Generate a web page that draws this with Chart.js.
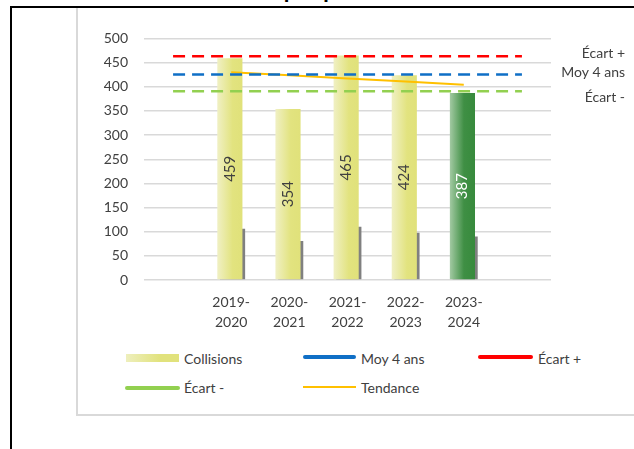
<!DOCTYPE html>
<html lang="fr">
<head>
<meta charset="utf-8">
<script src="https://cdn.jsdelivr.net/npm/chart.js@4"></script>
<style>
  html, body { margin: 0; padding: 0; background: #fff; overflow: hidden; }
  body { width: 634px; height: 449px; position: relative; font-family: Lato, "Open Sans", sans-serif; color: #404040; }
  #frame { position: absolute; left: 10px; top: 6px; width: 700px; height: 500px; border-left: 2px solid #000; border-top: 2px solid #000; }
  #title { position: absolute; left: 0; width: 716px; top: -22px; text-align: center; font: bold 23px Lato, sans-serif; color: #000; line-height: 23px; }
  #box { position: absolute; left: 76px; top: 8px; width: 640px; height: 406px; border: 2px solid #d9d9d9; border-top: none; }
  #chart { position: absolute; left: 78px; top: 10px; }
  .lg { position: absolute; font-size: 14px; line-height: 16px; color: #404040; white-space: nowrap; }
  .sym { position: absolute; }
</style>
</head>
<body>
<div id="frame"></div>
<div id="title">Graphique : Collisions</div>
<div id="box"></div>
<canvas id="chart" width="556" height="330"></canvas>

<div class="sym" style="left:126px;top:354px;width:53px;height:8px;background:linear-gradient(to right,#eeefbd,#e1e27c 65%);"></div>
<div class="lg" style="left:184px;top:351px;">Collisions</div>
<div class="sym" style="left:303px;top:355px;width:53px;height:4px;border-radius:2px;background:#0f6fc6;"></div>
<div class="lg" style="left:361px;top:351px;">Moy 4 ans</div>
<div class="sym" style="left:478px;top:355px;width:55px;height:4px;border-radius:2px;background:#ff0000;"></div>
<div class="lg" style="left:538px;top:351px;">Écart +</div>
<div class="sym" style="left:125px;top:386px;width:55px;height:4px;border-radius:2px;background:#92d050;"></div>
<div class="lg" style="left:184px;top:380px;">Écart -</div>
<div class="sym" style="left:303px;top:386px;width:53px;height:2px;background:#ffc000;"></div>
<div class="lg" style="left:361px;top:380px;">Tendance</div>

<script>
  // categories (empty slots at both ends, as in the source sheet)
  var LABELS = ['', ['2019-', '2020'], ['2020-', '2021'], ['2021-', '2022'], ['2022-', '2023'], ['2023-', '2024'], ''];
  var COLLISIONS = [null, 459, 354, 465, 424, 387, null];
  var SECONDARY = [null, 106, 81, 110, 98, 90, null];
  var MOY_4_ANS = [425.5, 425.5, 425.5, 425.5, 425.5, 425.5, 425.5];
  var ECART_PLUS = [463, 463, 463, 463, 463, 463, 463];
  var ECART_MOINS = [391, 391, 391, 391, 391, 391, 391];
  var TENDANCE = [null, 430, 424, 417, 411, 404, null];
  var Y_TICKS = [0, 50, 100, 150, 200, 250, 300, 350, 400, 450, 500];

  var HIGHLIGHT_INDEX = 5;
  var TEXT = '#404040';

  function barFill(ctx) {
    var chart = ctx.chart;
    var hi = ctx.dataIndex === HIGHLIGHT_INDEX;
    if (!chart.chartArea || ctx.type !== 'data') return hi ? '#3a8a3f' : '#e1e27c';
    var xs = chart.scales.x;
    var cx = xs.getPixelForValue(ctx.dataIndex);
    var w = xs.width / LABELS.length;
    var g = chart.ctx.createLinearGradient(cx - w * 0.24, 0, cx + w * 0.2, 0);
    if (hi) {
      g.addColorStop(0, '#a3caa3');
      g.addColorStop(0.55, '#3f8f44');
      g.addColorStop(1, '#378a3c');
    } else {
      g.addColorStop(0, '#f0f0c4');
      g.addColorStop(0.6, '#e2e37f');
      g.addColorStop(1, '#e0e17a');
    }
    return g;
  }

  var barValueLabels = {
    id: 'barValueLabels',
    afterDatasetsDraw: function (chart) {
      var meta = chart.getDatasetMeta(0);
      var c = chart.ctx;
      c.save();
      c.font = '15px Lato, sans-serif';
      c.textAlign = 'center';
      c.textBaseline = 'middle';
      meta.data.forEach(function (el, i) {
        if (COLLISIONS[i] == null) return;
        c.save();
        c.translate(el.x, (el.y + el.base) / 2);
        c.rotate(-Math.PI / 2);
        c.fillStyle = i === HIGHLIGHT_INDEX ? '#ffffff' : TEXT;
        c.fillText(String(COLLISIONS[i]), 0, 0);
        c.restore();
      });
      c.restore();
    }
  };

  var endLabels = {
    id: 'endLabels',
    afterDatasetsDraw: function (chart) {
      var c = chart.ctx;
      var ys = chart.scales.y;
      var right = chart.chartArea.right + 74;
      var items = [
        { text: 'Écart +', value: ECART_PLUS[ECART_PLUS.length - 1], shift: -3 },
        { text: 'Moy 4 ans', value: MOY_4_ANS[MOY_4_ANS.length - 1], shift: -2 },
        { text: 'Écart -', value: ECART_MOINS[ECART_MOINS.length - 1], shift: 6 }
      ];
      c.save();
      c.font = '14px Lato, sans-serif';
      c.fillStyle = TEXT;
      c.textAlign = 'right';
      c.textBaseline = 'middle';
      items.forEach(function (it) {
        c.fillText(it.text, right, ys.getPixelForValue(it.value) + it.shift);
      });
      c.restore();
    }
  };

  function refLine(label, data, color) {
    return {
      type: 'line',
      label: label,
      data: data,
      borderColor: color,
      backgroundColor: color,
      borderWidth: 2.5,
      borderDash: [12, 7],
      pointRadius: 0,
      fill: false,
      order: 0
    };
  }

  new Chart(document.getElementById('chart'), {
    type: 'bar',
    data: {
      labels: LABELS,
      datasets: [
        {
          label: 'Collisions',
          data: COLLISIONS,
          backgroundColor: barFill,
          categoryPercentage: 0.093,
          barPercentage: 9.3,
          order: 1
        },
        {
          label: '',
          data: SECONDARY,
          backgroundColor: '#808080',
          categoryPercentage: 0.093,
          barPercentage: 9.3,
          order: 2
        },
        refLine('Écart +', ECART_PLUS, '#ff0000'),
        refLine('Moy 4 ans', MOY_4_ANS, '#0f6fc6'),
        refLine('Écart -', ECART_MOINS, '#92d050'),
        {
          type: 'line',
          label: 'Tendance',
          data: TENDANCE,
          borderColor: '#ffc000',
          borderWidth: 2,
          pointRadius: 0,
          fill: false,
          spanGaps: false,
          order: 0
        }
      ]
    },
    options: {
      responsive: false,
      animation: false,
      layout: { padding: { top: 28.5, right: 83, left: 0, bottom: 0 } },
      plugins: {
        legend: { display: false },
        tooltip: { enabled: false },
        title: { display: false }
      },
      scales: {
        x: {
          grid: { display: false, drawTicks: false },
          border: { display: false },
          ticks: {
            color: TEXT,
            font: { family: 'Lato, sans-serif', size: 14, lineHeight: 1.4 },
            padding: 13,
            maxRotation: 0,
            autoSkip: false
          },
          afterFit: function (s) { s.height = 60; }
        },
        y: {
          min: 0,
          max: 500,
          grid: { color: '#d9d9d9', lineWidth: 1.5, drawTicks: false },
          border: { display: false },
          afterBuildTicks: function (s) {
            s.ticks = Y_TICKS.map(function (v) { return { value: v }; });
          },
          ticks: {
            color: TEXT,
            font: { family: 'Lato, sans-serif', size: 14 },
            padding: 16
          },
          afterFit: function (s) { s.width = 66; }
        }
      }
    },
    plugins: [barValueLabels, endLabels]
  });
</script>
</body>
</html>
